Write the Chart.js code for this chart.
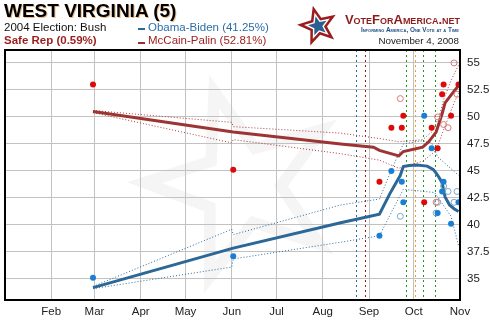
<!DOCTYPE html>
<html>
<head>
<meta charset="utf-8">
<script src="https://cdn.jsdelivr.net/npm/chart.js@4.4.0/dist/chart.umd.min.js"></script>
<style>
  html, body { margin: 0; padding: 0; background: #fff; }
  #wrap { position: relative; width: 490px; height: 330px; overflow: hidden;
          font-family: 'Liberation Sans', Arial, sans-serif; }
  #chart { position: absolute; left: 0; top: 0; }
  .t { position: absolute; white-space: nowrap; line-height: 1; }
  .title { left: 4px; top: 1px; font-size: 19px; font-weight: bold; color: #000;
           text-shadow: 1px 1px 0 rgba(220,130,40,0.55); }
  .sub { font-size: 11.5px; }
  .dash { position: absolute; width: 7px; height: 2px; }
  .logo { right: 30px; top: 13px; font-size: 13px; font-weight: bold; font-variant: small-caps;
          color: #8e1b1b; }
  .tag { right: 31px; top: 27px; font-size: 6.4px; font-weight: bold; font-variant: small-caps;
         color: #24508a; }
  .date { right: 31px; top: 36px; font-size: 9.8px; color: #222; }
  #star { position: absolute; left: 297px; top: 3px; }
</style>
</head>
<body>
<div id="wrap">
  <canvas id="chart" width="490" height="330"></canvas>
  <div class="t title">WEST VIRGINIA (5)</div>
  <div class="t sub" style="left:4px;top:22px;color:#111">2004 Election: Bush</div>
  <div class="t sub" style="left:4px;top:35px;color:#9b1c1c;font-weight:bold">Safe Rep (0.59%)</div>
  <div class="dash" style="left:138px;top:28px;background:#2a6a9a"></div>
  <div class="t sub" style="left:148px;top:22px;color:#2a6fa8">Obama-Biden (41.25%)</div>
  <div class="dash" style="left:138px;top:42px;background:#9b2d2d"></div>
  <div class="t sub" style="left:148px;top:35px;color:#9b1c1c">McCain-Palin (52.81%)</div>
  <canvas id="star" width="42" height="44"></canvas>
  <div class="t logo">VoteForAmerica.net</div>
  <div class="t tag">Informing America, One Vote at a Time</div>
  <div class="t date">November 4, 2008</div>
</div>
<script>
// 2008 is a leap year; x values are days since Jan 1
const MONTH_START = [0, 31, 60, 91, 121, 152, 182, 213, 244, 274, 305, 335];
function day(md) {
  const [m, d] = md.split('-').map(Number);
  return MONTH_START[m - 1] + d - 1;
}

const monthTicks = ['02-01', '03-01', '04-01', '05-01', '06-01', '07-01', '08-01', '09-01', '10-01', '11-01'];
const monthLabels = ['Feb', 'Mar', 'Apr', 'May', 'Jun', 'Jul', 'Aug', 'Sep', 'Oct', 'Nov'];
const yTicks = [35, 37.5, 40, 42.5, 45, 47.5, 50, 52.5, 55];

// trend lines
const obamaTrendDates = ['02-29', '06-02', '08-13', '09-08', '09-15', '09-22', '09-24', '09-28', '10-03', '10-10', '10-14', '10-16', '10-18', '10-20', '10-22', '10-25', '10-28', '10-31'];
const obamaTrend = [34.2, 37.85, 40.2, 41.0, 42.9, 44.6, 45.4, 45.5, 45.55, 45.45, 45.15, 44.8, 44.4, 43.9, 42.6, 41.85, 41.5, 41.25];
const mccainTrendDates = ['02-29', '06-02', '08-13', '09-04', '09-08', '09-21', '09-24', '10-07', '10-11', '10-16', '10-20', '10-22', '10-27', '10-31'];
const mccainTrend = [50.5, 48.6, 47.5, 47.2, 46.9, 46.4, 46.8, 47.2, 47.7, 48.6, 50.3, 51.3, 52.2, 52.9];

// dotted bands
const obamaHighDates = ['02-29', '06-01', '06-02', '08-13', '09-08', '09-16', '09-24', '10-07', '10-13', '10-17', '10-31'];
const obamaHigh = [34.3, 39.6, 39.1, 41.85, 42.4, 45.1, 47.5, 47.8, 47.6, 46.3, 44.6];
const obamaLowDates = ['02-29', '06-01', '06-02', '08-13', '09-08', '09-15', '09-24', '10-15', '10-26', '10-31'];
const obamaLow = [34.1, 36.1, 36.85, 38.4, 39.0, 40.9, 43.3, 43.0, 40.8, 38.1];
const mccainHighDates = ['02-29', '06-01', '06-02', '08-13', '09-08', '09-21', '10-07', '10-13', '10-18', '10-21', '10-26', '10-31'];
const mccainHigh = [50.6, 49.5, 49.1, 48.5, 48.0, 47.7, 47.9, 48.6, 50.0, 51.6, 53.4, 54.8];
const mccainLowDates = ['02-29', '06-01', '06-02', '08-13', '09-08', '09-21', '10-07', '10-16', '10-21', '10-28', '10-31'];
const mccainLow = [50.4, 47.6, 47.9, 46.6, 46.0, 45.25, 45.9, 46.9, 48.8, 51.3, 52.2];

// polls (filled = current, hollow = older)
const pollDates = ['02-29', '06-02', '09-08', '09-16', '09-23', '09-24', '10-08', '10-13', '10-17', '10-20', '10-21', '10-26', '10-31'];
const pollObama = [35.1, 37.1, 39.0, 45.0, 44.0, 42.1, 50.1, 47.1, 41.1, 43.1, 44.0, 40.1, 42.1];
const pollMcCain = [53.0, 45.1, 44.0, 49.0, 49.0, 50.1, 42.1, 49.0, 47.1, 52.1, 53.0, 50.1, 53.0];
const oldPollDates = ['09-22', '10-16', '10-17', '10-21', '10-24', '10-28', '10-30'];
const oldPollObama = [40.8, 41.1, 42.1, 43.6, 43.1, 42.1, 43.1];
const oldPollMcCain = [51.7, 42.1, 50.0, 49.3, 49.0, 55.0, 52.1];

// conventions and debates
const eventDates = ['08-23', '08-29', '09-26', '10-02', '10-07', '10-15'];
const eventColors = ['#2a6a9a', '#a01c1c', '#1a9a1a', '#f0a020', '#1a9a1a', '#1a9a1a'];

const BLUE = '#2b6797', RED = '#9e3333';
const pts = (dates, vals) => dates.map((d, i) => ({ x: day(d), y: vals[i] }));

function star(ctx, cx, cy, R, r, rot) {
  for (let i = 0; i < 10; i++) {
    const rad = i % 2 ? r : R;
    const a = rot + i * Math.PI / 5;
    const px = cx + rad * Math.cos(a), py = cy + rad * Math.sin(a);
    if (i === 0) ctx.moveTo(px, py); else ctx.lineTo(px, py);
  }
  ctx.closePath();
}

const watermark = {
  id: 'watermark',
  beforeDraw(chart) {
    const ctx = chart.ctx, a = chart.chartArea;
    const cx = a.left + 237, cy = a.top + 135, rot = -Math.PI / 2 - 0.29;
    ctx.save();
    ctx.beginPath();
    star(ctx, cx, cy, 115, 46, rot);
    star(ctx, cx, cy, 80, 32, rot);
    ctx.fillStyle = '#f5f5f5';
    ctx.fill('evenodd');
    ctx.restore();
  }
};

const events = {
  id: 'events',
  beforeDatasetsDraw(chart) {
    const ctx = chart.ctx, a = chart.chartArea, xs = chart.scales.x;
    ctx.save();
    ctx.lineWidth = 1;
    ctx.setLineDash([2, 3]);
    eventDates.forEach((d, i) => {
      const x = Math.round(xs.getPixelForValue(day(d))) + 0.5;
      ctx.strokeStyle = eventColors[i];
      ctx.beginPath();
      ctx.moveTo(x, a.top);
      ctx.lineTo(x, a.bottom);
      ctx.stroke();
    });
    ctx.restore();
  }
};

const frame = {
  id: 'frame',
  afterDraw(chart) {
    const ctx = chart.ctx, a = chart.chartArea;
    ctx.save();
    ctx.strokeStyle = '#000';
    ctx.lineWidth = 2;
    ctx.strokeRect(a.left, a.top, a.right - a.left, a.bottom - a.top);
    ctx.restore();
  }
};

const band = (data, color) => ({
  data, showLine: true, borderColor: color, borderWidth: 1, borderDash: [1, 2],
  pointRadius: 0, fill: false
});
const trend = (data, color) => ({
  data, showLine: true, borderColor: color, borderWidth: 3, pointRadius: 0,
  tension: 0, fill: false
});
const dots = (data, color, hollow) => ({
  data, showLine: false, pointRadius: 3,
  pointBackgroundColor: hollow ? 'rgba(255,255,255,0)' : color,
  pointBorderColor: color, pointBorderWidth: hollow ? 1 : 0
});

const tickFont = { family: "'Liberation Sans', Arial, sans-serif", size: 11.5 };

new Chart(document.getElementById('chart'), {
  type: 'scatter',
  data: {
    datasets: [
      dots(pts(pollDates, pollMcCain), '#dd0a0a', false),
      dots(pts(pollDates, pollObama), '#1a7fd4', false),
      dots(pts(oldPollDates, oldPollMcCain), '#d87a7a', true),
      dots(pts(oldPollDates, oldPollObama), '#7ea6c6', true),
      trend(pts(mccainTrendDates, mccainTrend), RED),
      trend(pts(obamaTrendDates, obamaTrend), BLUE),
      band(pts(mccainHighDates, mccainHigh), '#a83a3a'),
      band(pts(mccainLowDates, mccainLow), '#a83a3a'),
      band(pts(obamaHighDates, obamaHigh), '#2b6a9a'),
      band(pts(obamaLowDates, obamaLow), '#2b6a9a')
    ]
  },
  options: {
    responsive: false,
    animation: false,
    layout: { padding: { top: 50, left: 3, right: 0, bottom: 0 } },
    plugins: { legend: { display: false }, tooltip: { enabled: false } },
    scales: {
      x: {
        type: 'linear', min: 0, max: 305,
        afterBuildTicks: s => { s.ticks = monthTicks.map(m => ({ value: day(m) })); },
        afterFit: s => { s.height = 30; },
        ticks: {
          autoSkip: false, maxRotation: 0, padding: 5, color: '#222', font: tickFont,
          callback: v => monthLabels[monthTicks.findIndex(m => day(m) === v)]
        },
        grid: { color: '#c2c2c2', drawTicks: false },
        border: { display: false }
      },
      y: {
        position: 'right', min: 33.05, max: 56.2,
        afterBuildTicks: s => { s.ticks = yTicks.map(v => ({ value: v })); },
        afterFit: s => { s.width = 30; },
        ticks: { padding: 7, color: '#222', font: tickFont, callback: v => String(v) },
        grid: { color: '#c2c2c2', drawTicks: false },
        border: { display: false }
      }
    }
  },
  plugins: [watermark, events, frame]
});

// logo star
(function () {
  const c = document.getElementById('star').getContext('2d');
  const rot = -Math.PI / 2 - 0.25;
  c.beginPath(); star(c, 21, 23, 21, 9, rot); c.fillStyle = '#9b1c1c'; c.fill();
  c.beginPath(); star(c, 21, 23, 14, 6, rot); c.fillStyle = '#fff'; c.fill();
  c.beginPath(); star(c, 21, 23, 10, 4.3, rot); c.fillStyle = '#2b5f8f'; c.fill();
})();
</script>
</body>
</html>
